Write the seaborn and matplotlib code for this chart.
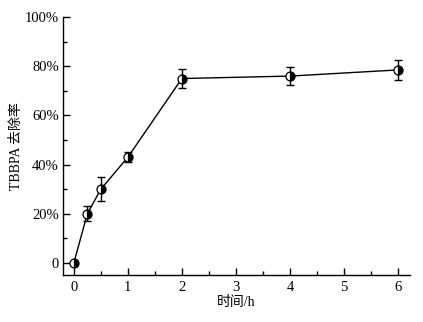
import matplotlib
matplotlib.use("Agg")
import matplotlib.pyplot as plt
import seaborn as sns
import numpy as np
from matplotlib.ticker import MultipleLocator, FuncFormatter

time_h = [0, 0.25, 0.5, 1, 2, 4, 6]
removal = [0, 20, 30, 43, 75, 76, 78.5]
err = [0, 3, 5, 2, 4, 3.5, 4]
x_ticks = [0, 1, 2, 3, 4, 5, 6]
y_ticks = [0, 20, 40, 60, 80, 100]

sns.set_theme(style="white")
plt.rcParams['font.family'] = ['Liberation Serif', 'Noto Sans CJK SC']

fig = plt.figure(figsize=(4.23, 3.22), dpi=100)
ax = fig.add_axes([0.149, 0.146, 0.820, 0.801])

ax.errorbar(time_h, removal, yerr=err, fmt='none', ecolor='black',
            elinewidth=1.0, capsize=3, capthick=1.0, zorder=2)
sns.lineplot(x=time_h, y=removal, ax=ax, color='black', linewidth=1.0,
             marker='o', markersize=6.5, fillstyle='right',
             markerfacecolor='black', markerfacecoloralt='white',
             markeredgecolor='black', markeredgewidth=0.9, zorder=3)

ax.set_xlim(-0.2, 6.22)
ax.set_ylim(-4.9, 100)
ax.set_xticks(x_ticks)
ax.set_yticks(y_ticks)
ax.xaxis.set_minor_locator(MultipleLocator(0.5))
ax.yaxis.set_minor_locator(MultipleLocator(10))
ax.yaxis.set_major_formatter(FuncFormatter(lambda v, p: '0' if v == 0 else f'{int(v)}%'))

for side in ['top', 'right']:
    ax.spines[side].set_visible(False)
for side in ['left', 'bottom']:
    ax.spines[side].set_color('black')
    ax.spines[side].set_linewidth(1.0)

ax.tick_params(axis='both', which='major', direction='in', length=5, width=1,
               color='black', labelsize=10.5, labelcolor='black')
ax.tick_params(axis='x', which='major', pad=4)
ax.tick_params(axis='y', which='major', pad=3)
ax.tick_params(axis='both', which='minor', direction='in', length=3, width=1,
               color='black')
ax.tick_params(bottom=True, left=True, which='both')

ax.set_xlabel('时间/h', fontsize=10, color='black', labelpad=2)
ax.set_ylabel('TBBPA 去除率', fontsize=10, color='black', labelpad=1)

fig.savefig('out.png', dpi=100, facecolor='white')
